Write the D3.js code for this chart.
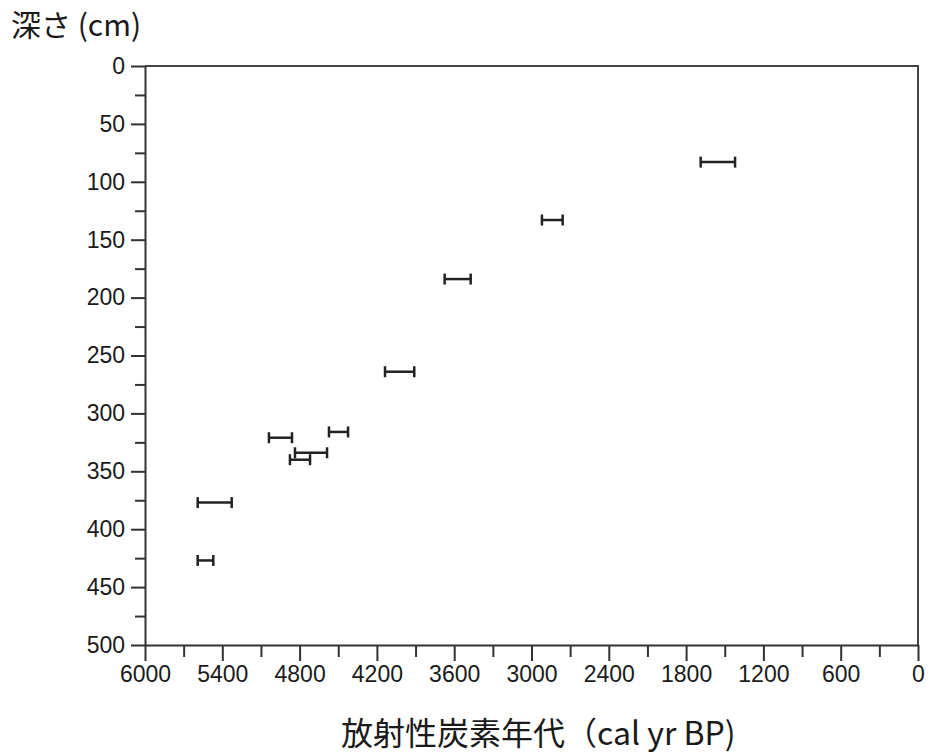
<!DOCTYPE html>
<html>
<head>
<meta charset="utf-8">
<script src="https://cdn.jsdelivr.net/npm/d3@7"></script>
<style>
  body { margin: 0; background: #fff; }
  text { fill: #1a1a1a; }
</style>
</head>
<body>
<div id="plot"></div>
<script>
// radiocarbon ages (cal yr BP) vs depth (cm)
var depths   = [83, 133, 184, 264, 316, 321, 334, 340, 377, 427];
var ageYoung = [1420, 2758, 3472, 3910, 4424, 4859, 4587, 4719, 5327, 5470];
var ageOld   = [1687, 2919, 3674, 4137, 4572, 5038, 4836, 4875, 5591, 5591];

var xMajor = [6000, 5400, 4800, 4200, 3600, 3000, 2400, 1800, 1200, 600, 0];
var xMinor = [5700, 5100, 4500, 3900, 3300, 2700, 2100, 1500, 900, 300];
var yMajor = [0, 50, 100, 150, 200, 250, 300, 350, 400, 450, 500];
var yMinor = [25, 75, 125, 175, 225, 275, 325, 375, 425, 475];

var xTitle = "放射性炭素年代（cal yr BP)";
var yTitle = "深さ (cm)";

var margin = {top: 66, right: 13, bottom: 111, left: 145},
    width = 931 - margin.left - margin.right,
    height = 756 - margin.top - margin.bottom;

var svg = d3.select("div#plot")
  .append("svg")
    .attr("width", 931)
    .attr("height", 756)
  .append("g")
    .attr("transform", "translate(" + margin.left + "," + margin.top + ")");

var x = d3.scaleLinear().domain([6000, 0]).range([0, width]);
var y = d3.scaleLinear().domain([0, 500]).range([0, height]);

var font = "'Liberation Sans', Arial, 'Noto Sans CJK JP', sans-serif";
var axisColor = "#333";

// box (top and right edges)
svg.append("path")
  .attr("d", "M0,0H" + width + "V" + height)
  .attr("fill", "none")
  .attr("stroke", "#444")
  .attr("stroke-width", 2);

// minor ticks first
svg.append("g")
  .attr("transform", "translate(0," + height + ")")
  .call(d3.axisBottom(x).tickValues(xMinor).tickSize(12).tickFormat(""))
  .call(g => g.select(".domain").remove());
svg.append("g")
  .call(d3.axisLeft(y).tickValues(yMinor).tickSize(10).tickFormat(""))
  .call(g => g.select(".domain").remove());

// major axes
var xAxis = svg.append("g")
  .attr("transform", "translate(0," + height + ")")
  .call(d3.axisBottom(x).tickValues(xMajor).tickSize(16).tickSizeOuter(0).tickPadding(5).tickFormat(d3.format("d")));
var yAxis = svg.append("g")
  .call(d3.axisLeft(y).tickValues(yMajor).tickSize(14).tickSizeOuter(0).tickPadding(6).tickFormat(d3.format("d")));

svg.selectAll(".tick line, .domain")
  .attr("stroke", axisColor)
  .attr("stroke-width", 2);
svg.selectAll(".tick text")
  .attr("font-family", font)
  .attr("font-size", 23)
  .attr("fill", "#1a1a1a");

// error bars
var bars = svg.append("g")
  .selectAll("g")
  .data(depths.map((d, i) => ({depth: d, lo: ageYoung[i], hi: ageOld[i]})))
  .enter()
  .append("g")
    .attr("stroke", "#222")
    .attr("stroke-width", 2.5);

bars.append("line")
  .attr("x1", d => x(d.hi))
  .attr("x2", d => x(d.lo))
  .attr("y1", d => y(d.depth))
  .attr("y2", d => y(d.depth));
bars.append("line")
  .attr("x1", d => x(d.hi))
  .attr("x2", d => x(d.hi))
  .attr("y1", d => y(d.depth) - 5.5)
  .attr("y2", d => y(d.depth) + 5.5);
bars.append("line")
  .attr("x1", d => x(d.lo))
  .attr("x2", d => x(d.lo))
  .attr("y1", d => y(d.depth) - 5.5)
  .attr("y2", d => y(d.depth) + 5.5);

// axis titles
svg.append("text")
  .attr("x", 341 - margin.left)
  .attr("y", height + 100)
  .attr("font-family", "'Noto Sans CJK JP', sans-serif")
  .attr("font-size", 32)
  .text(xTitle);

svg.append("text")
  .attr("x", 11 - margin.left)
  .attr("y", 36 - margin.top)
  .attr("font-family", "'Noto Sans CJK JP', sans-serif")
  .attr("font-size", 30)
  .text(yTitle);
</script>
</body>
</html>
